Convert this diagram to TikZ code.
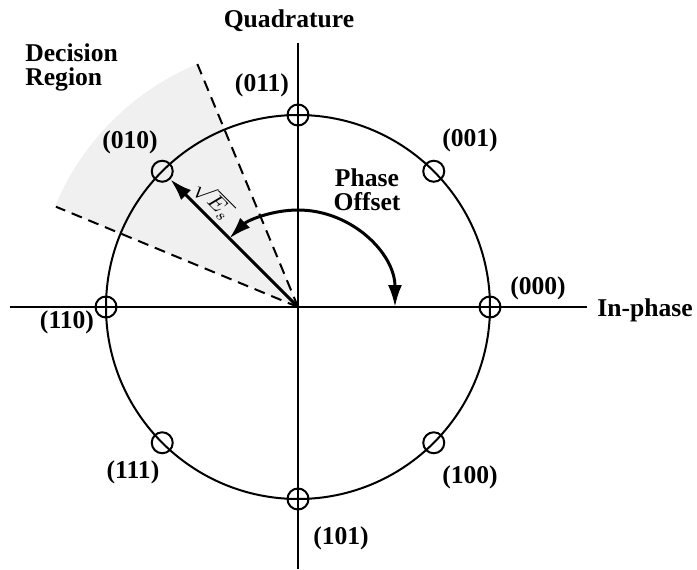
\documentclass[tikz,border=0pt]{standalone}
\usepackage{fontspec}
\setmainfont{Liberation Serif}
\usetikzlibrary{arrows.meta, positioning}

\begin{document}
\begin{tikzpicture}[x=0.5pt, y=0.5pt,
    font=\fontsize{12.8}{12}\selectfont\bfseries,
    axis/.style={line width=1pt},
    ring/.style={line width=1pt},
    pt/.style={circle, draw, line width=1pt, minimum size=10.5pt, inner sep=0pt},
    bits/.style={inner sep=0pt},
    bound/.style={line width=1pt, dash pattern=on 5.5pt off 3.5pt},
    vec/.style={line width=1.5pt, {Latex[length=11pt, width=7pt]}-},
    turn/.style={line width=1.5pt, {Latex[length=11pt, width=7pt]}-{Latex[length=11pt, width=7pt]}}
  ]
  \useasboundingbox (-298,-262) rectangle (399,307);
  \fill[gray!12] (0,0) -- (112.5:263) arc[start angle=112.5, end angle=157.5, radius=263] -- cycle;
  \coordinate (O) at (0,0);
  \coordinate (xw) at (-288,0);
  \coordinate (xe) at (289,0);
  \coordinate (yn) at (0,264);
  \coordinate (ys) at (0,-262);
  \coordinate (da) at (112.5:265);
  \coordinate (db) at (157.5:262);
  \coordinate (ph0) at (0:97);
  \draw[axis] (xw) -- (xe);
  \draw[axis] (ys) -- (yn);
  \draw[ring] (O) circle[radius=192];
  \draw[bound] (O) -- (da);
  \draw[bound] (O) -- (db);
  \foreach \a/\n in {0/000, 45/001, 90/011, 135/010, 180/110, 225/111, 270/101, 315/100}
    \node[pt] (p\n) at (\a:192) {};
  \foreach \n/\x/\y in {000/240/19, 001/172/167, 011/-36/222, 010/-168/165,
      110/-231/-15, 111/-165/-165, 101/43/-231, 100/172/-170}
    \node[bits] (l\n) at (\x,\y) {(\n)};
  \draw[vec] (p010) -- node[sloped, anchor=south, pos=0.25, inner sep=1.5pt,
    font=\fontsize{11}{12}\selectfont] {$\sqrt{E_s}$} (O);
  \draw[turn] (ph0) arc[start angle=0, end angle=135, radius=97];
  \node[bits] (qd) at (-9,286) {Quadrature};
  \node[bits, anchor=west] (ip) at (299,-3) {In-phase};
  \node[bits, align=left, anchor=west] (dr) at (-273,239.5) {Decision\\Region};
  \node[bits, align=center] (po) at (69,117) {Phase\\Offset};
\end{tikzpicture}
\end{document}
